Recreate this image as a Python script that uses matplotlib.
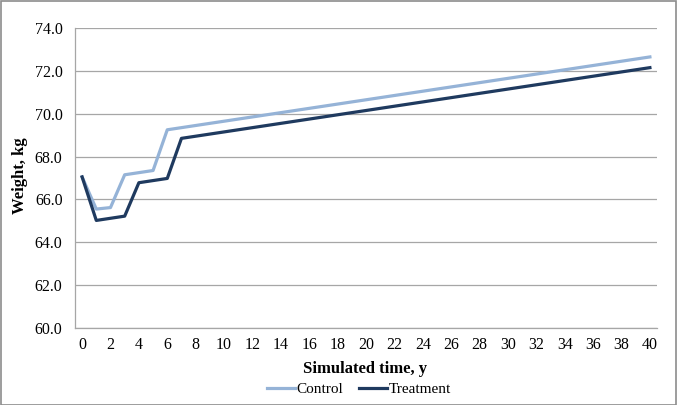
import matplotlib
matplotlib.use("Agg")
import matplotlib.pyplot as plt
from matplotlib.patches import Rectangle
from matplotlib.lines import Line2D

years = list(range(0, 41))
control = [67.05, 65.55, 65.62, 67.15, 67.25, 67.35, 69.25, 69.35, 69.45, 69.55,
           69.65, 69.75, 69.85, 69.95, 70.05, 70.15, 70.25, 70.35, 70.45, 70.55,
           70.65, 70.75, 70.85, 70.95, 71.05, 71.15, 71.25, 71.35, 71.45, 71.55,
           71.65, 71.75, 71.85, 71.95, 72.05, 72.15, 72.25, 72.35, 72.45, 72.55,
           72.65]
treatment = [67.05, 65.02, 65.12, 65.22, 66.78, 66.88, 66.98, 68.85, 68.95, 69.05,
             69.15, 69.25, 69.35, 69.45, 69.55, 69.65, 69.75, 69.85, 69.95, 70.05,
             70.15, 70.25, 70.35, 70.45, 70.55, 70.65, 70.75, 70.85, 70.95, 71.05,
             71.15, 71.25, 71.35, 71.45, 71.55, 71.65, 71.75, 71.85, 71.95, 72.05,
             72.15]
series_names = ["Control", "Treatment"]
x_ticks = list(range(0, 41, 2))
y_ticks = [60, 62, 64, 66, 68, 70, 72, 74]

plt.rcParams['font.family'] = ['Liberation Serif', 'DejaVu Serif']

W, H = 677, 405
fig = plt.figure(figsize=(W / 100, H / 100), dpi=100)
fig.patch.set_facecolor('white')

L, R, T, B = 75, 657, 28, 328
ax = fig.add_axes([L / W, 1 - B / H, (R - L) / W, (B - T) / H])

c_control = '#95b3d7'
c_treat = '#1f3a5f'
ax.plot(years, control, color=c_control, lw=2.3, solid_joinstyle='round', zorder=3)
ax.plot(years, treatment, color=c_treat, lw=2.3, solid_joinstyle='round', zorder=4)

ax.set_xlim(-0.5, 40.5)
ax.set_ylim(60, 74)
ax.set_yticks(y_ticks)
ax.set_yticklabels([f"{v:.1f}" for v in y_ticks])
ax.set_xticks(x_ticks)
ax.set_xticklabels([str(v) for v in x_ticks])
ax.grid(axis='y', color='#a6a6a6', lw=0.9)
ax.set_axisbelow(True)
ax.tick_params(axis='both', length=0, labelsize=11.5, colors='black')
ax.tick_params(axis='y', pad=9)
ax.tick_params(axis='x', pad=6.5)
for s in ['top', 'right']:
    ax.spines[s].set_visible(False)
for s in ['left', 'bottom']:
    ax.spines[s].set_color('#a6a6a6')
    ax.spines[s].set_linewidth(0.9)

fig.text(365 / W, 1 - 369 / H, "Simulated time, y", ha='center', va='center',
         fontsize=12, fontweight='bold')
fig.text(20 / W, 1 - 176 / H, "Weight, kg", ha='center', va='center', rotation=90,
         fontsize=12, fontweight='bold')

handles = [Line2D([0], [0], color=c_control, lw=2.3),
           Line2D([0], [0], color=c_treat, lw=2.3)]
fig.legend(handles, series_names, loc='center', bbox_to_anchor=(359 / W, 1 - 389 / H),
           ncol=2, frameon=False, fontsize=11, handlelength=1.85, handletextpad=0.1,
           columnspacing=1.0, borderaxespad=0, borderpad=0)

fig.add_artist(Rectangle((0.5 / W, 0.5 / H), (W - 1.5) / W, (H - 1.5) / H,
                         transform=fig.transFigure, fill=False, edgecolor='#8c8c8c', lw=1.2))

fig.savefig("out.png", dpi=100)
